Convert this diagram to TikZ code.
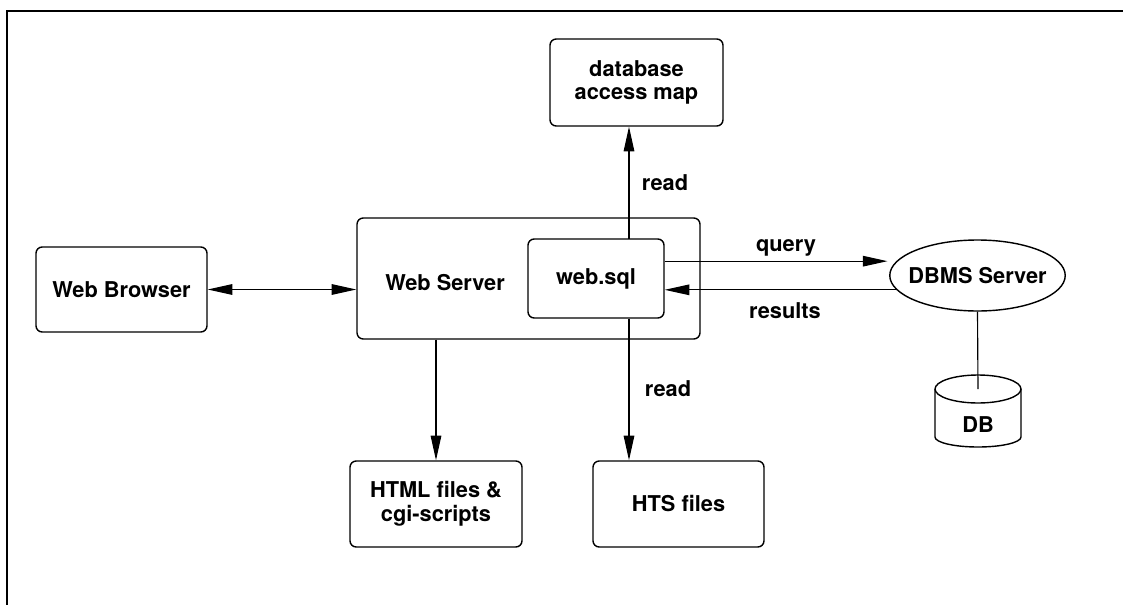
\documentclass[tikz,border=0pt]{standalone}
\usepackage{fontspec}
\setmainfont{TeX Gyre Heros}
\usetikzlibrary{positioning,shapes.geometric,arrows.meta,calc}

\tikzset{
  box/.style={draw,rounded corners=3.5pt,line width=0.8pt,align=center,inner sep=0pt,
    font=\bfseries\fontsize{12.4}{13.5}\selectfont},
  lbl/.style={font=\bfseries\fontsize{12.4}{13.5}\selectfont},
  arr/.style={line width=0.65pt,-{Triangle[length=14pt,width=6pt]}},
  arrboth/.style={line width=0.65pt,{Triangle[length=14pt,width=6pt]}-{Triangle[length=14pt,width=6pt]}},
}

\begin{document}
\begin{tikzpicture}[x=0.02cm,y=-0.02cm]
    \useasboundingbox (0,0) rectangle (1123,605);
    \draw[line width=0.9pt] (1123,11) -- (7,11) -- (7,605);

    % boxes
    \node (map) at (636.5,82.5) [box,minimum width=3.46cm,minimum height=1.74cm] {database\\access map};
    \node (browser) at (121.5,289.5) [box,minimum width=3.42cm,minimum height=1.70cm] {Web Browser};
    \node (server) at (528.5,278.5) [box,minimum width=6.86cm,minimum height=2.42cm] {};
    \node (servername) at (445,283) [lbl] {Web Server};
    \node (websql) at (596,278.5) [box,minimum width=2.72cm,minimum height=1.58cm] {web.sql};
    \node (html) at (436,504) [box,minimum width=3.44cm,minimum height=1.72cm] {HTML files \&\\cgi-scripts};
    \node (hts) at (678.5,504) [box,minimum width=3.42cm,minimum height=1.72cm] {HTS files};
    \node (dbms) at (977.5,275.5) [draw,ellipse,line width=0.8pt,inner xsep=-4pt,inner ysep=0pt,minimum width=3.42cm,minimum height=1.42cm,lbl] {DBMS Server};

    % the DB drum
    \node (db) at (978,425) [lbl] {DB};
    \draw[line width=0.8pt] ($(db)+(0,-36)$) ellipse [x radius=0.86cm,y radius=0.28cm];
    \draw[line width=0.8pt] ($(db)+(-43,-36)$) -- ($(db)+(-43,12)$)
        arc [start angle=180,end angle=360,x radius=0.86cm,y radius=0.2cm] -- ($(db)+(43,-36)$);

    % labels
    \node (readup) at (665,183) [lbl] {read};
    \node (readdown) at (668,389) [lbl] {read};
    \node (query) at (786,248) [lbl] {query};
    \node (results) at (785,311) [lbl] {results};

    % connectors
    \coordinate (rd) at (629,239);
    \draw[arr] (rd) -- (rd |- map.south);
    \draw[arr] (rd |- websql.south) -- (rd |- hts.north);
    \draw[arr] (html.north |- server.south) -- (html.north);
    \draw[arrboth] (browser.east) -- (browser.east -| server.west);
    \draw[arr,shorten >=5pt] (websql.east |- dbms.170) -- (dbms.170);
    \draw[arr] (dbms.190) -- (dbms.190 -| websql.east);
    \draw[line width=0.65pt] (dbms.south) -- ($(db)+(0,-36)$);
\end{tikzpicture}
\end{document}
